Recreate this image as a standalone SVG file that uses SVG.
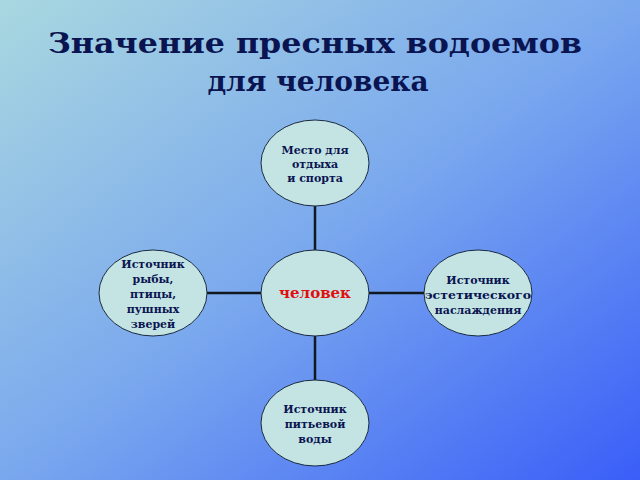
<svg xmlns="http://www.w3.org/2000/svg" width="640" height="480" viewBox="0 0 640 480">
<defs>
<linearGradient id="bg" x1="0" y1="0" x2="1" y2="1">
<stop offset="0" stop-color="#a9d8e0"/>
<stop offset="0.5" stop-color="#7aa8ee"/>
<stop offset="1" stop-color="#3a5ef8"/>
</linearGradient>
<style>
.n{fill:#c4e4e4;stroke:#1a2a40;stroke-width:1}
.t{font-family:"DejaVu Serif",serif;font-weight:bold;font-size:11px;fill:#0a1450;text-anchor:middle}
.c line{stroke:#101820;stroke-width:2.5}
</style>
</defs>
<rect width="640" height="480" fill="url(#bg)"/>
<g font-family="DejaVu Serif, serif" font-weight="bold" font-size="28" fill="#0a1450" text-anchor="middle">
<text x="315" y="53" textLength="534" lengthAdjust="spacingAndGlyphs">Значение пресных водоемов</text>
<text x="318" y="91">для человека</text>
</g>
<g class="c">
<line x1="315" y1="206" x2="315" y2="250"/>
<line x1="315" y1="336" x2="315" y2="380"/>
<line x1="207" y1="293" x2="261" y2="293"/>
<line x1="369" y1="293" x2="424" y2="293"/>
</g>
<g id="top"><ellipse class="n" cx="315" cy="163" rx="54" ry="43"/>
<text class="t" x="315" y="154">Место для</text><text class="t" x="315" y="168">отдыха</text><text class="t" x="315" y="182">и спорта</text></g>
<g id="center"><ellipse class="n" cx="315" cy="293" rx="54" ry="43"/>
<text x="315" y="298" text-anchor="middle" font-family="DejaVu Serif, serif" font-weight="bold" font-size="15" fill="#e01010">человек</text></g>
<g id="left"><ellipse class="n" cx="153" cy="293" rx="54" ry="43"/>
<text class="t" x="153" y="268">Источник</text><text class="t" x="153" y="283">рыбы,</text><text class="t" x="153" y="298">птицы,</text><text class="t" x="153" y="313">пушных</text><text class="t" x="153" y="328">зверей</text></g>
<g id="right"><ellipse class="n" cx="478" cy="293" rx="54" ry="43"/>
<text class="t" x="478" y="284">Источник</text><text class="t" x="478" y="299" textLength="106" lengthAdjust="spacingAndGlyphs">эстетического</text><text class="t" x="478" y="314">наслаждения</text></g>
<g id="bottom"><ellipse class="n" cx="315" cy="423" rx="54" ry="43"/>
<text class="t" x="315" y="413">Источник</text><text class="t" x="315" y="428">питьевой</text><text class="t" x="315" y="443">воды</text></g>
</svg>
